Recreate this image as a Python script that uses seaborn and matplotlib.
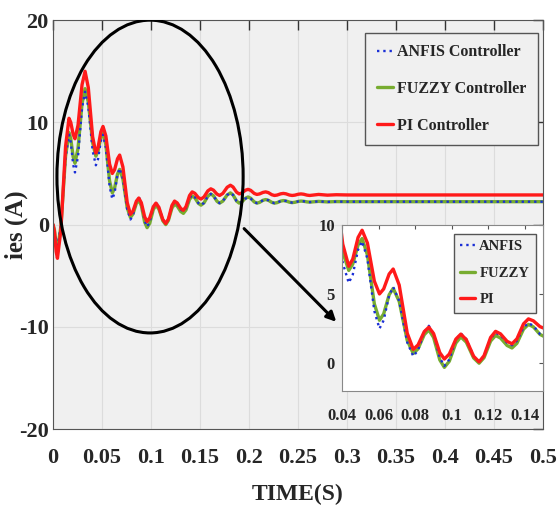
import seaborn as sns
import pandas as pd
import matplotlib.pyplot as plt
from matplotlib.patches import Ellipse

# values (extrema of each response plus points on the flanks)
time_s = [0, 0.0014, 0.0032,
          0.0045, 0.0080, 0.0128,
          0.0163, 0.0181, 0.0206,
          0.0224, 0.0255, 0.0296,
          0.0327, 0.0360, 0.0404,
          0.0437, 0.0459, 0.0488,
          0.051, 0.0539, 0.0577,
          0.0605, 0.0628, 0.0658,
          0.068, 0.0713, 0.0757,
          0.079, 0.0816, 0.0850,
          0.0875, 0.0901, 0.0935,
          0.096, 0.0987, 0.1023,
          0.105, 0.108, 0.112,
          0.115, 0.1177, 0.1213,
          0.124, 0.1267, 0.1303,
          0.133, 0.1357, 0.1393,
          0.142, 0.1447, 0.1483,
          0.151, 0.154, 0.158,
          0.161, 0.1637, 0.1673,
          0.170, 0.1733, 0.1777,
          0.181, 0.1837, 0.1873,
          0.190, 0.1927, 0.1963,
          0.199, 0.2017, 0.2053,
          0.208, 0.2107, 0.2143,
          0.217, 0.2197, 0.2233,
          0.226, 0.2287, 0.2323,
          0.235, 0.2377, 0.2413,
          0.244, 0.2467, 0.2503,
          0.253, 0.2557, 0.2593,
          0.262, 0.271, 0.280, 0.289, 0.30, 0.5]

pi_ies = [0, -0.66, -2.64,
          -3.3, -0.56, 7.66,
          10.4, 10.0, 8.8,
          8.4, 9.72, 13.68,
          15.0, 13.4, 8.6,
          7.0, 7.52, 9.08,
          9.6, 8.68, 5.92,
          5.0, 5.36, 6.44,
          6.8, 5.64, 2.16,
          1.0, 1.32, 2.28,
          2.6, 2.14, 0.76,
          0.3, 0.66, 1.74,
          2.1, 1.7, 0.5,
          0.1, 0.54, 1.86,
          2.3, 2.12, 1.58,
          1.4, 1.76, 2.84,
          3.2, 3.06, 2.64,
          2.5, 2.7, 3.3,
          3.5, 3.37, 2.98,
          2.85, 3.05, 3.65,
          3.85, 3.68, 3.17,
          3.0, 3.09, 3.36,
          3.45, 3.35, 3.05,
          2.95, 3.0, 3.15,
          3.2, 3.13, 2.92,
          2.85, 2.89, 3.01,
          3.05, 3.01, 2.89,
          2.85, 2.88, 2.97,
          3.0, 2.97, 2.88,
          2.85, 2.95, 2.88, 2.92, 2.9, 2.9]

fuzzy_ies = [0, -0.5, -2.0,
             -2.5, -0.2, 6.7,
             9.0, 8.4, 6.6,
             6.0, 7.46, 11.84,
             13.3, 11.98, 8.02,
             6.7, 7.16, 8.54,
             9.0, 7.82, 4.28,
             3.1, 3.56, 4.94,
             5.4, 4.46, 1.64,
             0.7, 1.04, 2.06,
             2.4, 1.86, 0.24,
             -0.3, 0.14, 1.46,
             1.9, 1.52, 0.38,
             0.0, 0.4, 1.6,
             2.0, 1.82, 1.28,
             1.1, 1.44, 2.46,
             2.8, 2.62, 2.08,
             1.9, 2.12, 2.78,
             3.0, 2.82, 2.28,
             2.1, 2.3, 2.9,
             3.1, 2.9, 2.3,
             2.1, 2.22, 2.58,
             2.7, 2.58, 2.22,
             2.1, 2.17, 2.38,
             2.45, 2.38, 2.17,
             2.1, 2.15, 2.3,
             2.35, 2.31, 2.19,
             2.15, 2.18, 2.27,
             2.3, 2.28, 2.22,
             2.2, 2.27, 2.22, 2.25, 2.24, 2.24]

anfis_ies = [0, -0.46, -1.84,
             -2.3, -0.08, 6.58,
             8.8, 8.06, 5.84,
             5.1, 6.68, 11.42,
             13.0, 11.56, 7.24,
             5.8, 6.4, 8.2,
             8.8, 7.54, 3.76,
             2.5, 3.1, 4.9,
             5.5, 4.5, 1.5,
             0.5, 0.94, 2.26,
             2.7, 2.12, 0.38,
             -0.2, 0.27, 1.68,
             2.15, 1.74, 0.51,
             0.1, 0.52, 1.78,
             2.2, 2.02, 1.48,
             1.3, 1.62, 2.58,
             2.9, 2.7, 2.1,
             1.9, 2.12, 2.78,
             3.0, 2.82, 2.28,
             2.1, 2.3, 2.9,
             3.1, 2.9, 2.3,
             2.1, 2.21, 2.54,
             2.65, 2.54, 2.21,
             2.1, 2.17, 2.38,
             2.45, 2.38, 2.17,
             2.1, 2.15, 2.3,
             2.35, 2.31, 2.19,
             2.15, 2.18, 2.27,
             2.3, 2.28, 2.22,
             2.2, 2.27, 2.22, 2.25, 2.24, 2.24]

x_ticks = [0, 0.05, 0.1, 0.15, 0.2, 0.25, 0.3, 0.35, 0.4, 0.45, 0.5]
x_tick_labels = ["0", "0.05", "0.1", "0.15", "0.2", "0.25", "0.3", "0.35", "0.4", "0.45", "0.5"]
y_ticks = [-20, -10, 0, 10, 20]
inset_x_ticks = [0.04, 0.06, 0.08, 0.1, 0.12, 0.14]
inset_x_labels = ["0.04", "0.06", "0.08", "0.1", "0.12", "0.14"]
inset_y_ticks = [0, 5, 10]

sns.set_style("whitegrid", {"axes.facecolor": "#f0f0f0", "grid.color": "#dcdcdc",
                            "axes.edgecolor": "#555555"})
plt.rcParams["font.family"] = ["Liberation Serif", "DejaVu Serif"]
plt.rcParams["font.weight"] = "bold"
plt.rcParams["axes.unicode_minus"] = False

df = pd.DataFrame({"time": time_s, "FUZZY": fuzzy_ies, "ANFIS": anfis_ies, "PI": pi_ies})

series = [
    ("FUZZY", "#77ac30", 2.4, "-"),
    ("ANFIS", "#1a2fd6", 1.7, ":"),
    ("PI", "#ff1a1a", 2.4, "-"),
]

fig = plt.figure(figsize=(5.57, 5.13), dpi=100)
ax = fig.add_axes([0.0952, 0.1637, 0.8797, 0.797])

main_labels = {"FUZZY": "FUZZY Controller", "ANFIS": "ANFIS Controller", "PI": "PI Controller"}
for col, color, lw, ls in series:
    sns.lineplot(data=df, x="time", y=col, ax=ax, color=color, linewidth=lw,
                 linestyle=ls, label=main_labels[col], estimator=None, sort=False)

ax.set_xlim(0, 0.5)
ax.set_ylim(-20, 20)
ax.set_xticks(x_ticks)
ax.set_xticklabels(x_tick_labels)
ax.set_yticks(y_ticks)
ax.tick_params(axis="both", direction="in", top=True, right=True, length=7, width=1,
               labelsize=16, color="#333333")
ax.tick_params(axis="x", pad=14)
ax.tick_params(axis="y", pad=3)
for lab in ax.get_xticklabels() + ax.get_yticklabels():
    lab.set_fontweight("bold")
ax.set_xlabel("TIME(S)", fontsize=17, fontweight="bold")
ax.set_ylabel("ies (A)", fontsize=18, fontweight="bold")
ax.xaxis.set_label_coords(0.5, -0.135)
ax.yaxis.set_label_coords(-0.052, 0.5)

handles, labels = ax.get_legend_handles_labels()
order = [1, 0, 2]
ax.legend([handles[i] for i in order], [labels[i] for i in order], loc="upper right",
          bbox_to_anchor=(1.006, 0.988), frameon=True, fancybox=False,
          edgecolor="#555555", framealpha=1, handlelength=1.0, handletextpad=0.3,
          labelspacing=1.3, borderpad=0.7, prop={"weight": "bold", "size": 11.5})

# zoom circle and arrow
ax.add_patch(Ellipse((0.099, 4.7), 0.19, 30.6, fill=False, edgecolor="black", linewidth=2.2,
                     zorder=5))
ax.annotate("", xy=(0.291, -9.7), xytext=(0.193, -0.2),
            arrowprops=dict(arrowstyle="-|>", color="black", lw=2.2, mutation_scale=14),
            zorder=5)

# inset
axin = fig.add_axes([0.614, 0.238, 0.361, 0.324])
axin.set_facecolor("white")
for col, color, lw, ls in series:
    sns.lineplot(data=df, x="time", y=col, ax=axin, color=color, linewidth=lw,
                 linestyle=ls, label=col, estimator=None, sort=False)
axin.set_xlim(0.04, 0.15)
axin.set_ylim(-2, 10)
axin.set_xticks(inset_x_ticks)
axin.set_xticklabels(inset_x_labels)
axin.set_yticks(inset_y_ticks)
axin.grid(False)
axin.tick_params(direction="in", top=True, right=True, length=3, labelsize=12,
                 color="#555555")
axin.tick_params(axis="x", pad=12)
axin.tick_params(axis="y", pad=5)
for lab in axin.get_xticklabels() + axin.get_yticklabels():
    lab.set_fontweight("bold")
axin.set_xlabel("")
axin.set_ylabel("")
for sp in axin.spines.values():
    sp.set_color("#888888")
h2, l2 = axin.get_legend_handles_labels()
axin.legend([h2[i] for i in order], [l2[i] for i in order], loc="upper right",
            bbox_to_anchor=(1.0, 0.99), frameon=True, fancybox=False, edgecolor="#555555",
            framealpha=1, handlelength=1.0, handletextpad=0.3, labelspacing=0.9,
            borderpad=0.45, prop={"weight": "bold", "size": 10.5})

fig.savefig("out.png", dpi=100)
